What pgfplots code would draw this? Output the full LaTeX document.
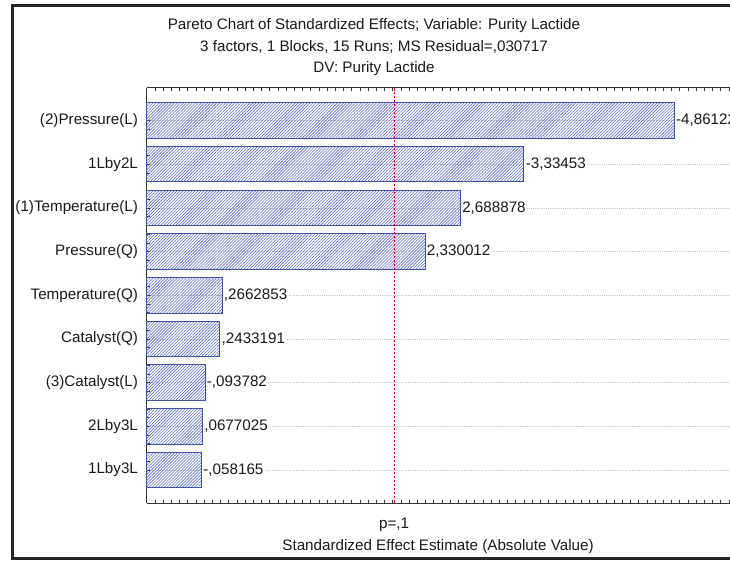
\documentclass[border=0pt]{standalone}
\usepackage{pgfplots}
\pgfplotsset{compat=1.18}
\usepackage{pgfplotstable}
\usepackage{fontspec}
\setmainfont{Liberation Sans}
\usetikzlibrary{patterns.meta}

\definecolor{barblue}{RGB}{66,80,168}
\definecolor{hatchblue}{RGB}{92,106,190}
\definecolor{txt}{RGB}{25,25,25}

% effects, top to bottom; bars start at the axis edge (x = -0.5)
\pgfplotstableread{
pos effect    label     name
0   4.86122   -4,86122  (2)Pressure(L)
1   3.33453   -3,33453  1Lby2L
2   2.688878  2,688878  (1)Temperature(L)
3   2.330012  2,330012  Pressure(Q)
4   0.2662853 ,2662853  Temperature(Q)
5   0.2433191 ,2433191  Catalyst(Q)
6   0.093782  -,093782  (3)Catalyst(L)
7   0.0677025 ,0677025  2Lby3L
8   0.058165  -,058165  1Lby3L
}\effects

\newcommand{\lbl}{\fontsize{11.4}{13.5}\selectfont}

\begin{document}
\begin{tikzpicture}
\path[use as bounding box] (0,0) rectangle (547.5pt,-420.75pt);
\begin{scope}[x=0.75pt,y=-0.75pt]
  \fill[black!85] (10.5,4) rectangle (745,7);
  \fill[black!85] (10.5,4) rectangle (13.5,560);
  \fill[black!85] (10.5,557) rectangle (745,560);
  \node[font=\lbl, text=txt, anchor=base] at (374,29)
    {Pareto Chart of Standardized Effects; Variable: Purity Lactide};
  \node[font=\lbl, text=txt, anchor=base] at (374,51)
    {3 factors, 1 Blocks, 15 Runs; MS Residual=,030717};
  \node[font=\lbl, text=txt, anchor=base] at (374,72.5)
    {DV: Purity Lactide};
\end{scope}
\begin{axis}[
    at={(110.0pt,-377.25pt)}, anchor=south west,
    scale only axis,
    width=440pt, height=311.6pt,
    xmin=0, xmax=5.962,
    ymin=-0.755, ymax=8.755,
    y dir=reverse,
    axis x line*=box,
    axis y line*=left,
    axis line style={black!80, line width=0.6pt},
    xtick={2.515},
    xticklabels={p={,}1},
    minor xtick={0,0.08333,...,5.96},
    ytick={0,...,8},
    yticklabels from table={\effects}{name},
    minor y tick num=4,
    major tick length=2.25pt,
    minor tick length=2.25pt,
    tick style={black!80, line width=0.5pt},
    ymajorgrids=true,
    major grid style={densely dotted, black!22, line width=0.5pt},
    ticklabel style={font=\lbl, text=txt},
    yticklabel style={xshift=-3pt},
    xticklabel style={yshift=-8pt},
    xlabel={Standardized Effect Estimate (Absolute Value)},
    xlabel style={font=\lbl, text=txt, yshift=1pt, xshift=-1.5pt},
    clip=false,
]
\addplot[xbar, bar width=26.6pt, draw=barblue, line width=0.75pt,
    pattern={Lines[angle=45,distance=1.6pt,line width=0.45pt]},
    pattern color=hatchblue,
    point meta=explicit symbolic,
    nodes near coords,
    every node near coord/.append style={anchor=west, inner sep=1pt,
      fill=white, font=\lbl, text=txt}]
    table[x expr=\thisrow{effect}+0.5, y=pos, meta=label] {\effects};
\addplot[red!80!black, line width=0.75pt, dash pattern=on 1.5pt off 1.5pt]
    coordinates {(2.515,-0.755) (2.515,8.755)};
\end{axis}
\end{tikzpicture}
\end{document}
